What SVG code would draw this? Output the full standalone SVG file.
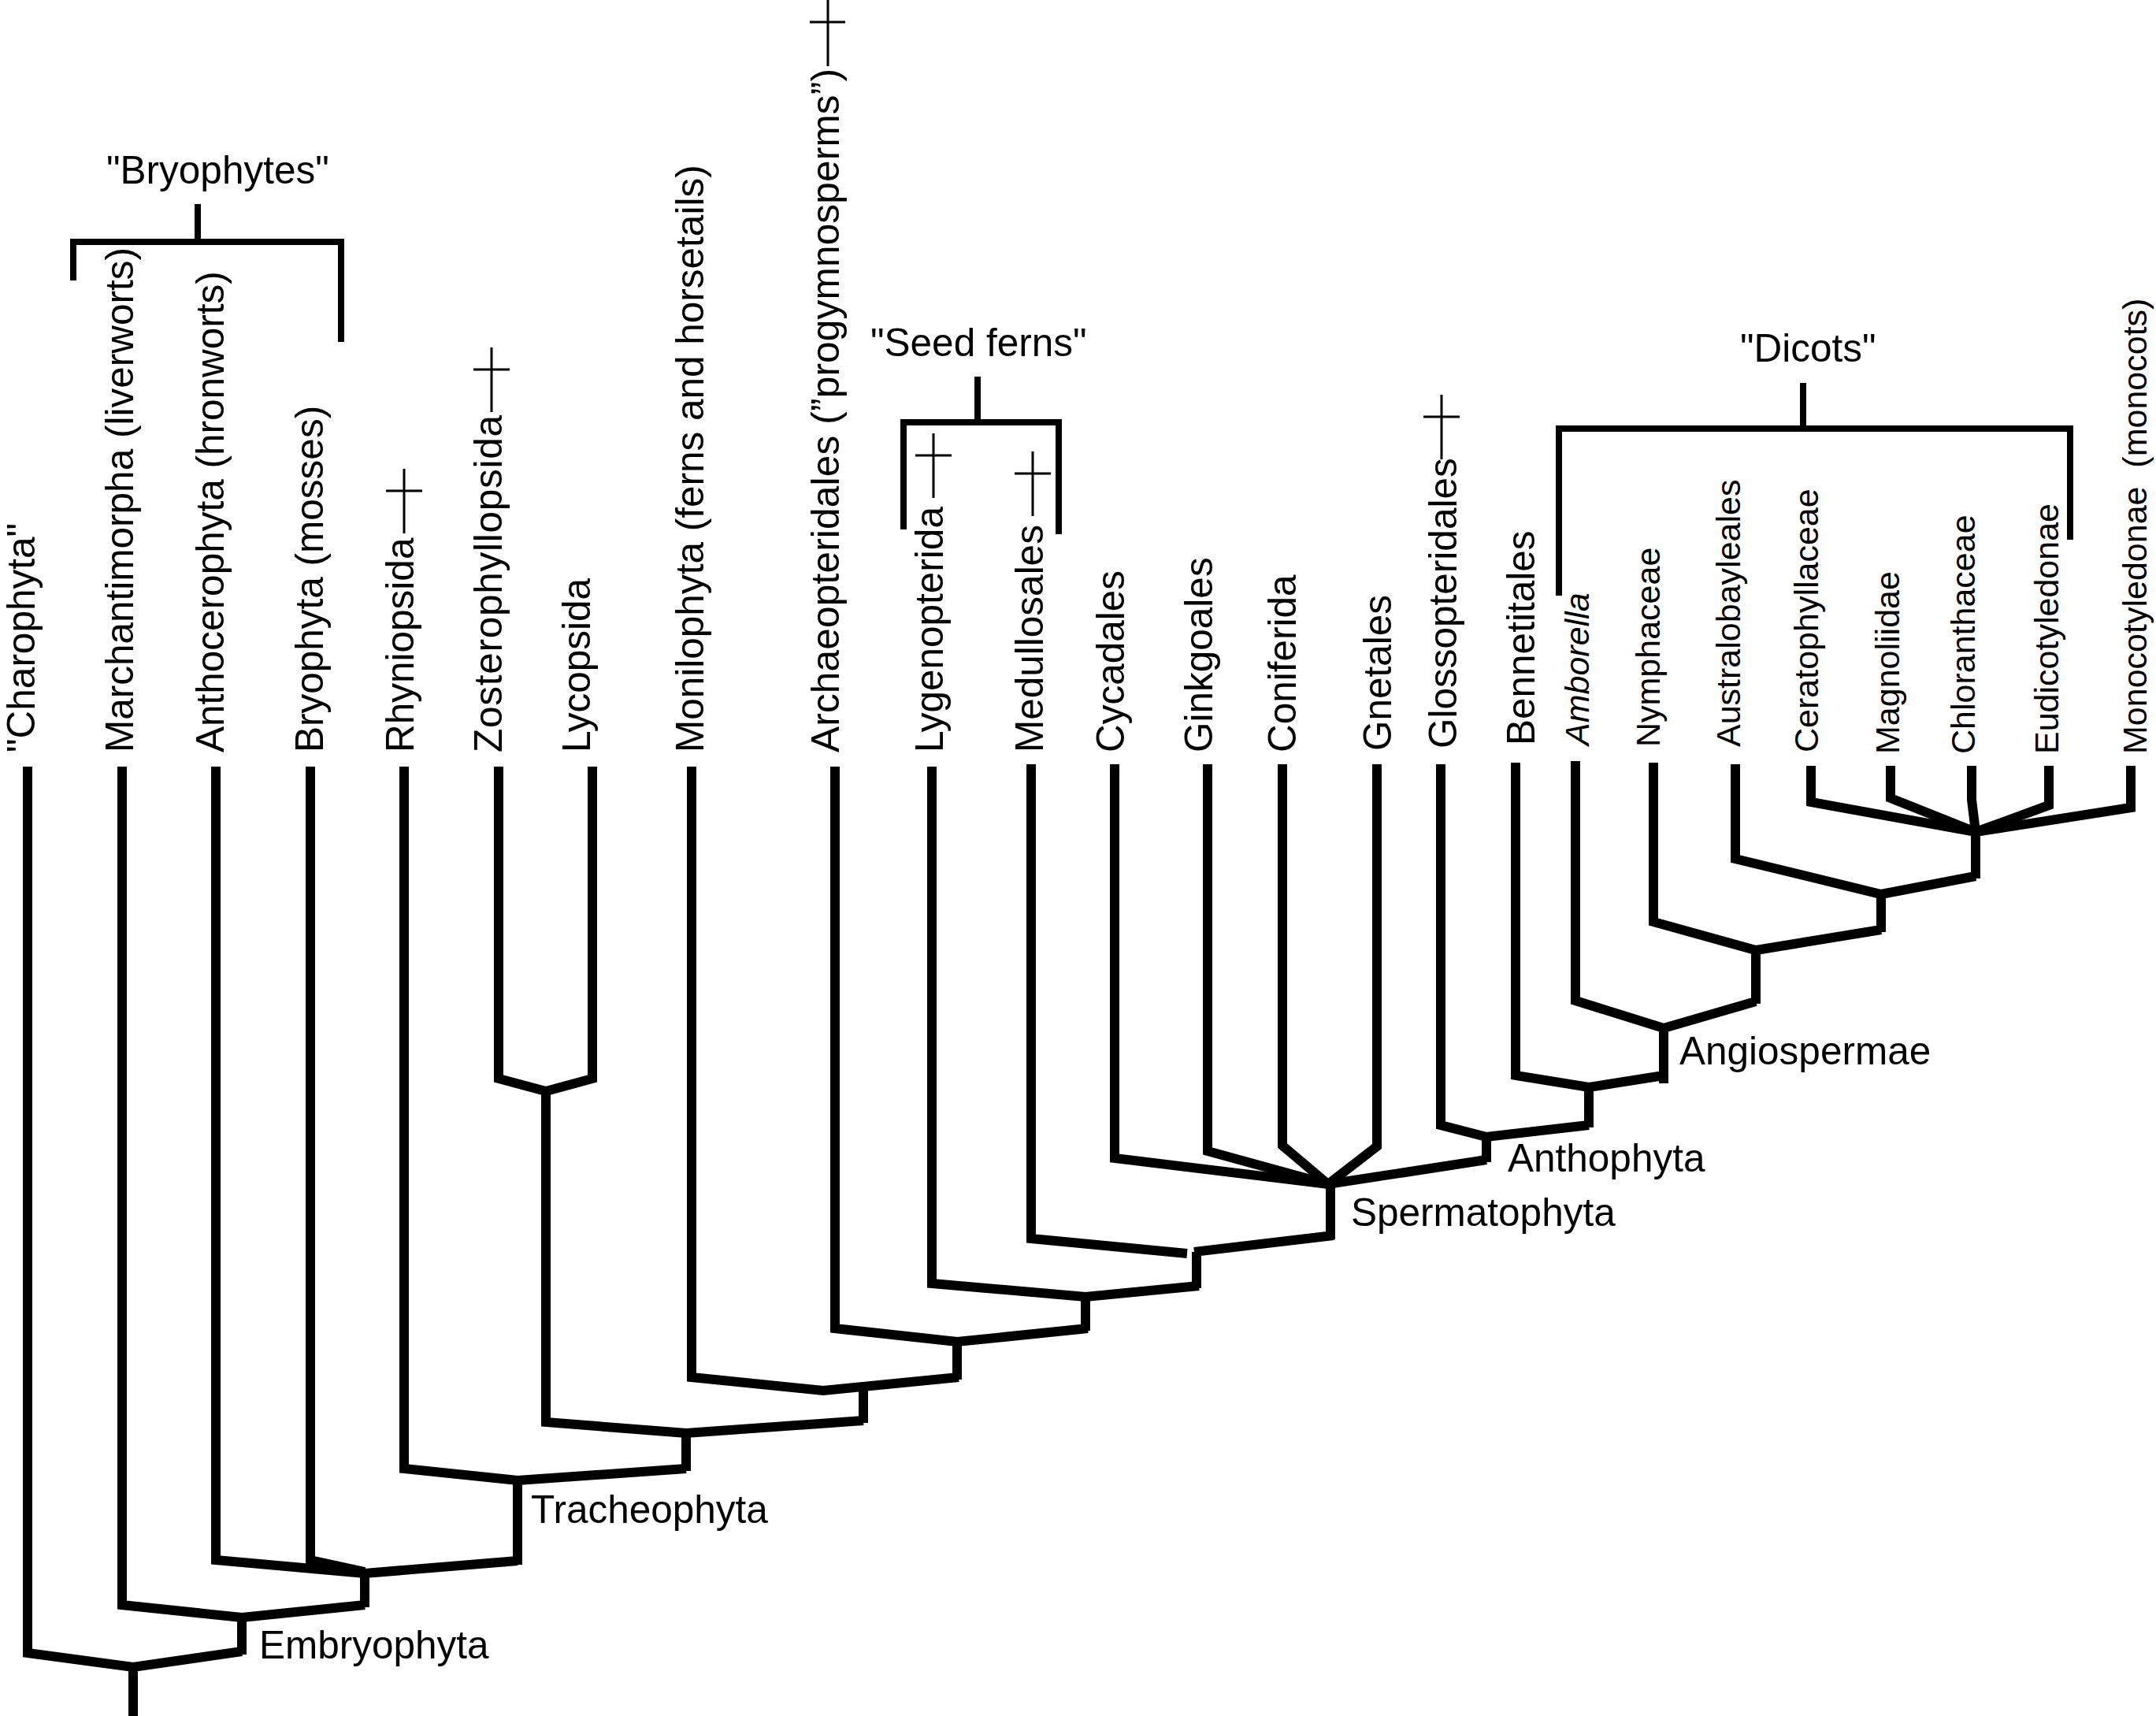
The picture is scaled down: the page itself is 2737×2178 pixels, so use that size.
<svg xmlns="http://www.w3.org/2000/svg" width="2737" height="2178" viewBox="0 0 2737 2178">
<style>
.bg{fill:#fff}
.t{font-family:"Liberation Sans",Arial,Helvetica,sans-serif;font-size:49.5px;fill:#000}
.s{font-family:"Liberation Sans",Arial,Helvetica,sans-serif;font-size:43px;fill:#000}
.i{font-style:italic}
.br{fill:none;stroke:#000;stroke-width:12;stroke-linejoin:miter;stroke-linecap:butt}
.bk{fill:none;stroke:#000;stroke-width:8;stroke-linecap:butt}
.dg{fill:none;stroke:#000;stroke-width:3}
</style>
<rect class="bg" x="0" y="0" width="2737" height="2178"/>
<g id="connectors">
<path class="br" d="M35,973 V2098 L169,2116 L307,2096"/>
<path class="br" d="M169,2116 V2178"/>
<path class="br" d="M307,2100 V2051"/>
<path class="br" d="M155,973 V2037 L307,2053 L463,2037"/>
<path class="br" d="M463,2040 V1995"/>
<path class="br" d="M274,973 V1980 L463,1997 L657,1981"/>
<path class="br" d="M394,973 V1980 L463,1995"/>
<path class="br" d="M657,1986 V1879"/>
<path class="br" d="M513,973 V1864 L657,1879 L871,1864"/>
<path class="br" d="M871,1867 V1819"/>
<path class="br" d="M693,1385 V1805 L871,1819 L1096,1803"/>
<path class="br" d="M633,973 V1369 L693,1385 L752,1369 V973"/>
<path class="br" d="M1096,1806 V1762"/>
<path class="br" d="M878,973 V1748 L1045,1765 L1217,1748"/>
<path class="br" d="M1215,1751 V1703"/>
<path class="br" d="M1060,973 V1686 L1215,1703 L1381,1686"/>
<path class="br" d="M1378,1689 V1646"/>
<path class="br" d="M1183,973 V1629 L1378,1646 L1522,1632"/>
<path class="br" d="M1519,1635 V1589"/>
<path class="br" d="M1309,970 V1572 L1507,1591"/>
<path class="br" d="M1516,1589 L1693,1568"/>
<path class="br" d="M1689,1573 V1501"/>
<path class="br" d="M1415,970 V1470 L1686,1503 L1887,1472"/>
<path class="br" d="M1533,970 V1461 L1686,1503"/>
<path class="br" d="M1628,970 V1454 L1686,1503"/>
<path class="br" d="M1748,970 V1455 L1686,1503"/>
<path class="br" d="M1887,1475 V1443"/>
<path class="br" d="M1829,970 V1428 L1887,1443 L2017,1428"/>
<path class="br" d="M2017,1431 V1380"/>
<path class="br" d="M1924,968 V1365 L2017,1380 L2112,1365"/>
<path class="br" d="M2112,1375 V1305"/>
<path class="br" d="M2000,966 V1270 L2112,1305 L2229,1271"/>
<path class="br" d="M2229,1274 V1206"/>
<path class="br" d="M2099,968 V1170 L2229,1206 L2388,1180"/>
<path class="br" d="M2388,1183 V1135"/>
<path class="br" d="M2203,970 V1090 L2388,1135 L2508,1112"/>
<path class="br" d="M2508,1115 V1056"/>
<path class="br" d="M2299,972 V1018 L2508,1056 L2705,1025 V972"/>
<path class="br" d="M2400,972 V1013 L2508,1056"/>
<path class="br" d="M2503,972 V1015 L2508,1056"/>
<path class="br" d="M2601,972 V1022 L2508,1056"/>
</g>
<g id="node-charophyta"><text class="t" transform="translate(44,955) rotate(-90)">"Charophyta"</text></g>
<g id="node-marchantimorpha"><text class="t" transform="translate(169,955) rotate(-90)">Marchantimorpha (liverworts)</text></g>
<g id="node-anthocerophyta"><text class="t" transform="translate(284,955) rotate(-90)">Anthocerophyta (hronworts)</text></g>
<g id="node-bryophyta"><text class="t" transform="translate(410,955) rotate(-90)">Bryophyta (mosses)</text></g>
<g id="node-rhyniopsida"><text class="t" transform="translate(525,955) rotate(-90)">Rhyniopsida</text><path class="dg" d="M513,677 V595 M490,623 H536"/></g>
<g id="node-zosterophyllopsida"><text class="t" transform="translate(637,955) rotate(-90)" textLength="428" lengthAdjust="spacing">Zosterophyllopsida</text><path class="dg" d="M624,523 V441 M601,469 H647"/></g>
<g id="node-lycopsida"><text class="t" transform="translate(749,955) rotate(-90)">Lycopsida</text></g>
<g id="node-monilophyta"><text class="t" transform="translate(893,955) rotate(-90)">Monilophyta (ferns and horsetails)</text></g>
<g id="node-archaeopteridales"><text class="t" transform="translate(1065,955) rotate(-90)" textLength="868" lengthAdjust="spacing">Archaeopteridales (”progymnosperms”)</text><path class="dg" d="M1051,84 V0 M1028,28 H1073"/></g>
<g id="node-lygenopterida"><text class="t" transform="translate(1197,955) rotate(-90)">Lygenopterida</text><path class="dg" d="M1185,632 V550 M1162,578 H1208"/></g>
<g id="node-medullosales"><text class="t" transform="translate(1324,955) rotate(-90)">Medullosales</text><path class="dg" d="M1311,655 V573 M1288,601 H1334"/></g>
<g id="node-cycadales"><text class="t" transform="translate(1427,955) rotate(-90)">Cycadales</text></g>
<g id="node-ginkgoales"><text class="t" transform="translate(1539,955) rotate(-90)">Ginkgoales</text></g>
<g id="node-coniferida"><text class="t" transform="translate(1645,955) rotate(-90)">Coniferida</text></g>
<g id="node-gnetales"><text class="t" transform="translate(1766,953) rotate(-90)">Gnetales</text></g>
<g id="node-glossopteridales"><text class="t" transform="translate(1849,950) rotate(-90)">Glossopteridales</text><path class="dg" d="M1830,583 V501 M1807,529 H1853"/></g>
<g id="node-bennetitales"><text class="t" transform="translate(1948,946) rotate(-90)">Bennetitales</text></g>
<g id="node-amborella"><text class="s i" transform="translate(2017,946) rotate(-90)">Amborella</text></g>
<g id="node-nymphaceae"><text class="s" transform="translate(2107,948) rotate(-90)">Nymphaceae</text></g>
<g id="node-australobayleales"><text class="s" transform="translate(2209,948) rotate(-90)">Australobayleales</text></g>
<g id="node-ceratophyllaceae"><text class="s" transform="translate(2308,955) rotate(-90)">Ceratophyllaceae</text></g>
<g id="node-magnoliidae"><text class="s" transform="translate(2411,957) rotate(-90)">Magnoliidae</text></g>
<g id="node-chloranthaceae"><text class="s" transform="translate(2507,957) rotate(-90)">Chloranthaceae</text></g>
<g id="node-eudicotyledonae"><text class="s" transform="translate(2613,957) rotate(-90)">Eudicotyledonae</text></g>
<g id="node-monocotyledonae"><text class="s" transform="translate(2725,957) rotate(-90)" xml:space="preserve">Monocotyledonae  (monocots)</text></g>
<g id="node-embryophyta"><text class="t" x="329" y="2105">Embryophyta</text></g>
<g id="node-tracheophyta"><text class="t" x="674" y="1933">Tracheophyta</text></g>
<g id="node-spermatophyta"><text class="t" x="1715" y="1556">Spermatophyta</text></g>
<g id="node-anthophyta"><text class="t" x="1914" y="1487">Anthophyta</text></g>
<g id="node-angiospermae"><text class="t" x="2132" y="1351">Angiospermae</text></g>
<g id="group-bryophytes"><path class="bk" d="M93,356 V307 H433 V434 M251,259 V307"/><text class="t" x="135" y="233">"Bryophytes"</text></g>
<g id="group-seedferns"><path class="bk" d="M1147,672 V536 H1344 V678 M1241,478 V536"/><text class="t" x="1105" y="452">"Seed ferns"</text></g>
<g id="group-dicots"><path class="bk" d="M1979,756 V544 H2628 V685 M2289,486 V544"/><text class="t" x="2209" y="459">"Dicots"</text></g>
</svg>
